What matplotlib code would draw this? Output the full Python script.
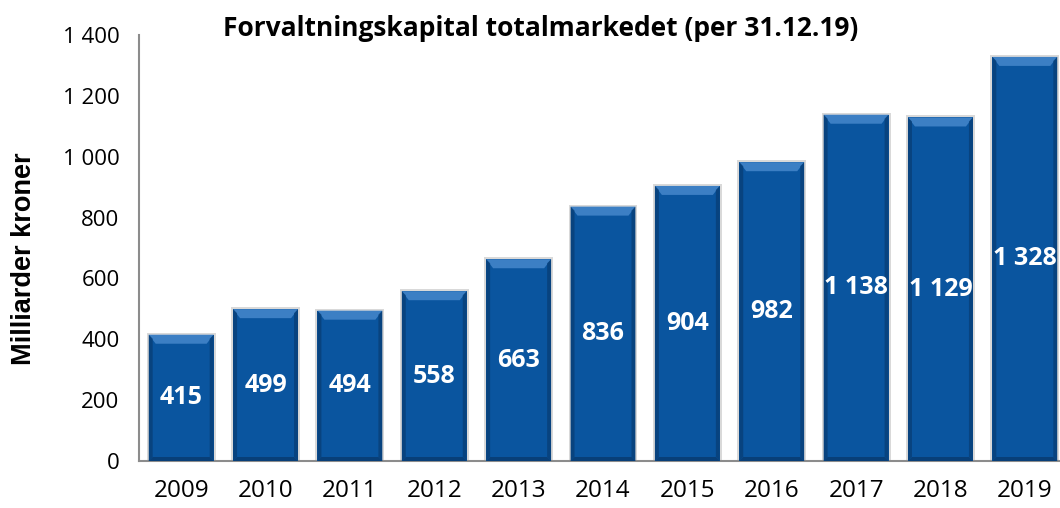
import numpy as np
import matplotlib
matplotlib.use("Agg")
import matplotlib.pyplot as plt
from matplotlib.patches import Polygon
from matplotlib.ticker import FuncFormatter

years = ["2009", "2010", "2011", "2012", "2013", "2014",
         "2015", "2016", "2017", "2018", "2019"]
values = [415, 499, 494, 558, 663, 836, 904, 982, 1138, 1129, 1328]
y_ticks = [0, 200, 400, 600, 800, 1000, 1200, 1400]

face = "#0a559f"
light = "#3c7fc4"
dark = "#083f78"

plt.rcParams["font.family"] = ["Open Sans", "DejaVu Sans"]

fig = plt.figure(figsize=(10.6, 5.08), dpi=100)
# axes runs past the right edge, the last bar is cut like in the source
ax = fig.add_axes([139 / 1060, 47 / 508, 928 / 1060, 426 / 508])

x = np.arange(len(years))
w = 0.77
bars = ax.bar(x, values, width=w, color=face, edgecolor="none", zorder=3)

ax.set_xlim(-0.5, len(years) - 0.5)
ax.set_ylim(0, 1400)

# pixel size in data units, for the bevel
px_x = 1 / 84.4
px_y = 1400 / 426.0

for b in bars:
    x0, y0 = b.get_x(), b.get_y()
    x1, y1 = x0 + b.get_width(), y0 + b.get_height()
    bx, by = 7 * px_x, 9 * px_y
    sx, sy = 4 * px_x, 4 * px_y
    # soft shadow
    ax.add_patch(Polygon([(x0 - 2 * px_x, y0), (x1 + 2 * px_x, y0),
                          (x1 + 2 * px_x, y1 + 2 * px_y), (x0 - 2 * px_x, y1 + 2 * px_y)],
                         closed=True, fc="#d9d9d9", ec="none", zorder=2))
    # top bevel
    ax.add_patch(Polygon([(x0, y1), (x1, y1), (x1 - bx, y1 - by), (x0 + bx, y1 - by)],
                         closed=True, fc=light, ec="none", zorder=4))
    # sides
    ax.add_patch(Polygon([(x0, y1), (x0 + sx, y1 - sy), (x0 + sx, y0 + sy), (x0, y0)],
                         closed=True, fc=dark, ec="none", zorder=4, alpha=0.8))
    ax.add_patch(Polygon([(x1, y1), (x1 - sx, y1 - sy), (x1 - sx, y0 + sy), (x1, y0)],
                         closed=True, fc=dark, ec="none", zorder=4, alpha=0.8))
    ax.add_patch(Polygon([(x0, y0), (x1, y0), (x1 - sx, y0 + sy), (x0 + sx, y0 + sy)],
                         closed=True, fc=dark, ec="none", zorder=4))

def space_fmt(v, pos=None):
    return f"{int(v):,}".replace(",", " ")

for xi, v in zip(x, values):
    ax.text(xi, v / 2, space_fmt(v), ha="center", va="center",
            color="white", fontsize=18, fontweight="bold", zorder=5)

ax.set_xticks(x)
ax.set_xticklabels(years, fontsize=17.5)
ax.set_yticks(y_ticks)
ax.yaxis.set_major_formatter(FuncFormatter(space_fmt))
ax.tick_params(axis="y", labelsize=16, length=0, pad=14)
ax.tick_params(axis="x", length=0, pad=13)

for s in ["top", "right"]:
    ax.spines[s].set_visible(False)
for s in ["left", "bottom"]:
    ax.spines[s].set_color("#8c8c8c")
    ax.spines[s].set_linewidth(1.5)

fig.text(24 / 1060, 1 - 259 / 508, "Milliarder kroner", rotation=90,
         ha="center", va="center", fontsize=19.5, fontweight="bold",
         family=["Liberation Sans", "DejaVu Sans"])
fig.text(541 / 1060, 1 - 28 / 508, "Forvaltningskapital totalmarkedet (per 31.12.19)",
         ha="center", va="center", fontsize=19, fontweight="bold")

fig.savefig("out.png", dpi=100)
